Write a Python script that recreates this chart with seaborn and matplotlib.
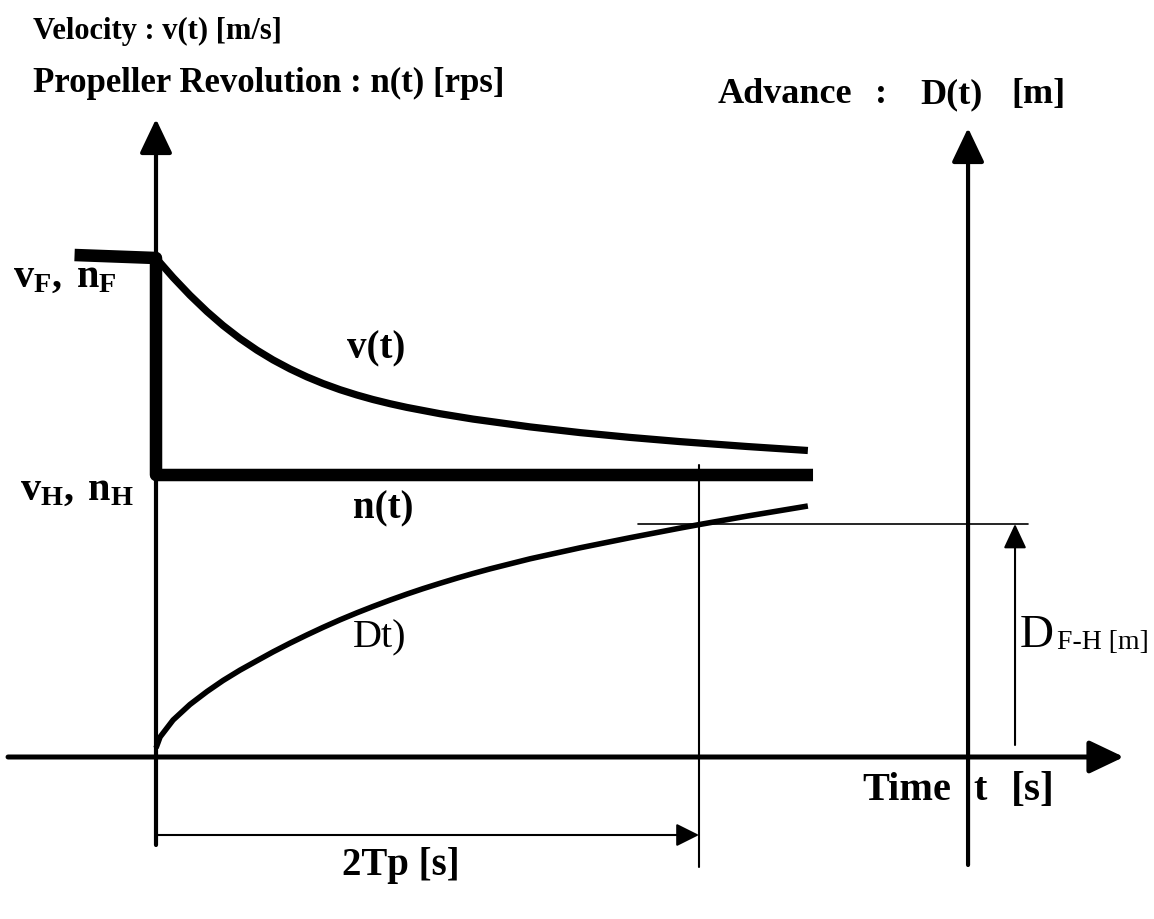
import numpy as np
import pandas as pd
import seaborn as sns
import matplotlib.pyplot as plt

# values (t in units of Tp, y in arbitrary units)
t_v = [0.0, 0.063, 0.125, 0.188, 0.247, 0.309, 0.372, 0.431, 0.494, 0.556, 0.615,
       0.678, 0.740, 0.799, 0.862, 0.924, 1.046, 1.168, 1.378, 1.562, 1.746, 1.930,
       2.177, 2.401]
v_vals = [4.99, 4.795, 4.618, 4.454, 4.315, 4.185, 4.068, 3.971, 3.880, 3.801, 3.735,
          3.673, 3.620, 3.575, 3.533, 3.496, 3.433, 3.379, 3.301, 3.244, 3.196, 3.154,
          3.105, 3.065]

t_n = [-0.30, 0.0, 0.0, 2.42]
n_vals = [5.02, 4.99, 2.82, 2.82]

t_d = [0.0, 0.015, 0.063, 0.125, 0.188, 0.247, 0.309, 0.372, 0.431, 0.494, 0.556,
       0.615, 0.678, 0.740, 0.799, 0.862, 0.924, 0.983, 1.046, 1.109, 1.168, 1.230,
       1.378, 1.562, 1.746, 1.930, 2.004, 2.177, 2.401]
d_vals = [0.09, 0.20, 0.37, 0.525, 0.655, 0.765, 0.868, 0.963, 1.051, 1.139, 1.221,
          1.296, 1.372, 1.442, 1.505, 1.569, 1.629, 1.683, 1.737, 1.789, 1.835, 1.881,
          1.982, 2.092, 2.193, 2.289, 2.326, 2.409, 2.510]

t_2tp = 2.0
d_fh = 2.33

sns.set_style("white")
plt.rcParams['font.family'] = ['Liberation Serif', 'DejaVu Serif']
plt.rcParams['text.color'] = 'black'
plt.rcParams['mathtext.fontset'] = 'custom'
plt.rcParams['mathtext.rm'] = 'Liberation Serif'
plt.rcParams['mathtext.bf'] = 'Liberation Serif:bold'

fig = plt.figure(figsize=(11.54, 9.19), dpi=100)
ax = fig.add_axes([0, 0, 1, 1])
ax.set_xlim(-0.5746, 3.6759)
ax.set_ylim(-1.62, 7.57)
ax.axis('off')

# curves
line_kw = dict(ax=ax, color='black', sort=False, estimator=None,
               solid_joinstyle='round', solid_capstyle='butt')
sns.lineplot(x=t_n, y=n_vals, lw=9, **line_kw)
sns.lineplot(x=t_v, y=v_vals, lw=5.2, **line_kw)
sns.lineplot(x=t_d, y=d_vals, lw=4, **line_kw)


def arrow(x0, y0, x1, y1, lw, hl, hw):
    ax.annotate('', xy=(x1, y1), xytext=(x0, y0),
                arrowprops=dict(arrowstyle=f'-|>,head_length={hl},head_width={hw}',
                                color='black', lw=lw, shrinkA=0, shrinkB=0,
                                mutation_scale=1))


# axes
arrow(0.0, -0.88, 0.0, 6.38, 3.0, 21, 10)
arrow(-0.545, 0.0, 3.565, 0.0, 3.6, 21, 10)
arrow(2.991, -1.08, 2.991, 6.29, 3.0, 21, 10)

# 2Tp marker lines
ax.plot([t_2tp, t_2tp], [-1.10, 2.92], color='black', lw=1.5)
ax.plot([1.775, 3.21], [d_fh, d_fh], color='black', lw=1.2)
arrow(0.0, -0.78, t_2tp, -0.78, 1.5, 14, 7)
arrow(3.164, 0.12, 3.164, d_fh, 1.5, 15, 7)

# texts
ax.text(-0.453, 7.18, 'Velocity : v(t) [m/s]', fontsize=22, fontweight='bold')
ax.text(-0.453, 6.65, 'Propeller Revolution : n(t) [rps]', fontsize=25, fontweight='bold')
ax.text(2.070, 6.54, 'Advance', fontsize=26, fontweight='bold')
ax.text(2.650, 6.54, ':', fontsize=26, fontweight='bold')
ax.text(2.814, 6.54, 'D(t)', fontsize=26, fontweight='bold')
ax.text(3.150, 6.54, '[m]', fontsize=26, fontweight='bold')

ax.text(0.703, 3.99, 'v(t)', fontsize=28, fontweight='bold')
ax.text(0.726, 2.39, 'n(t)', fontsize=28, fontweight='bold')
ax.text(0.726, 1.10, 'Dt)', fontsize=29)

ax.text(-0.527, 4.70, r'$\mathbf{v_F,\,n_F}$', fontsize=29)
ax.text(-0.50, 2.57, r'$\mathbf{v_H,\,n_H}$', fontsize=29)

ax.text(3.182, 1.10, 'D', fontsize=34)
ax.text(3.319, 1.08, 'F-H [m]', fontsize=20)

ax.text(2.60, -0.43, 'Time', fontsize=29, fontweight='bold')
ax.text(3.009, -0.43, 't', fontsize=29, fontweight='bold')
ax.text(3.150, -0.43, '[s]', fontsize=30, fontweight='bold')

ax.text(0.685, -1.18, '2Tp [s]', fontsize=28, fontweight='bold')

fig.savefig('out.png', dpi=100)
